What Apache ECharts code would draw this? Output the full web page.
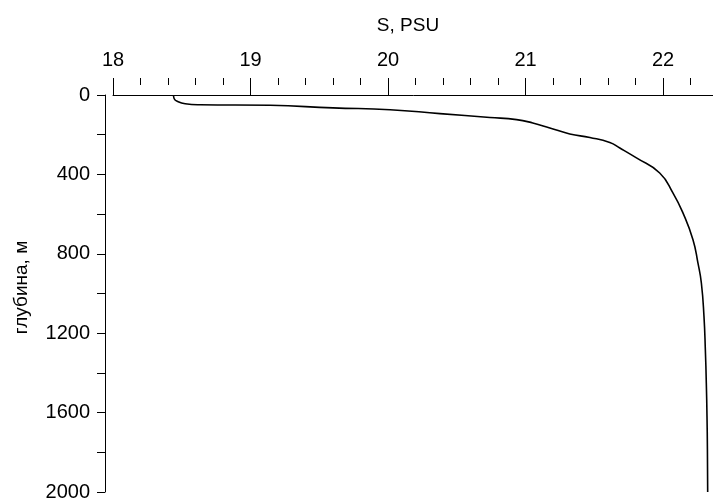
<!DOCTYPE html>
<html>
<head>
<meta charset="utf-8">
<script src="https://cdn.jsdelivr.net/npm/echarts@6/dist/echarts.min.js"></script>
<style>
html,body{margin:0;padding:0;background:#fff;}
#chart{width:713px;height:500px;}
</style>
</head>
<body>
<div id="chart"></div>
<script>
// Salinity (PSU) vs depth (m)
const salinity = [18.440, 18.445, 18.474, 18.525, 18.634, 19.143, 19.600, 20.015, 20.378, 20.741,
  20.935, 21.053, 21.177, 21.322, 21.468, 21.613, 21.686, 21.807, 21.976, 22.073,
  22.145, 22.218, 22.254, 22.279, 22.298, 22.308, 22.315, 22.320, 22.323, 22.325];
const depth = [0, 19, 34, 44, 49, 52, 65, 74, 94, 113,
  124, 141, 166, 196, 214, 239, 267, 317, 393, 494,
  594, 729, 846, 947, 1115, 1283, 1451, 1619, 1787, 2000];
const xTitle = 'S, PSU';
const yTitle = 'глубина, м';

const points = salinity.map((s, i) => [s, depth[i]]);
const font = '"Liberation Sans", Arial, sans-serif';
const black = '#000';

const chart = echarts.init(document.getElementById('chart'), null, {renderer: 'canvas'});
chart.setOption({
  animation: false,
  backgroundColor: '#fff',
  grid: {left: 113, top: 95, right: -5, bottom: 8, outerBoundsMode: 'none', containLabel: false},
  xAxis: [{
    type: 'value', position: 'top', min: 18, max: 22.4, interval: 1, offset: 10,
    name: xTitle, nameLocation: 'middle', nameGap: 50,
    nameTextStyle: {fontFamily: font, fontSize: 19, color: black, padding: [0, 15, 0, 0]},
    axisLine: {show: true, lineStyle: {color: black, width: 1}},
    axisTick: {show: true, length: 12, inside: false, lineStyle: {color: black, width: 1}},
    axisLabel: {fontFamily: font, fontSize: 20, color: black, margin: 15, showMaxLabel: false,
      formatter: v => String(v)},
    splitLine: {show: false}
  }, {
    type: 'value', position: 'top', min: 18, max: 22.4, interval: 0.2, offset: 10,
    axisLine: {show: false},
    axisTick: {show: true, length: 7, inside: false, lineStyle: {color: black, width: 1}},
    axisLabel: {show: false},
    splitLine: {show: false}
  }],
  yAxis: {
    type: 'value', inverse: true, min: 0, max: 2000, interval: 400, offset: 8,
    name: yTitle, nameLocation: 'middle', nameGap: 74,
    nameTextStyle: {fontFamily: font, fontSize: 19, color: black, padding: [0, 0, 0, 12]},
    axisLine: {show: true, lineStyle: {color: black, width: 1}},
    axisTick: {show: true, length: 8, inside: false, lineStyle: {color: black, width: 1}},
    minorTick: {show: true, splitNumber: 2, length: 8, lineStyle: {color: black, width: 1}},
    axisLabel: {fontFamily: font, fontSize: 20, color: black, margin: 15,
      formatter: v => String(v)},
    splitLine: {show: false}
  },
  series: [{
    type: 'line', xAxisIndex: 0, yAxisIndex: 0,
    data: points, showSymbol: false, smooth: 0.5,
    lineStyle: {color: black, width: 1.6}
  }]
});
</script>
</body>
</html>
